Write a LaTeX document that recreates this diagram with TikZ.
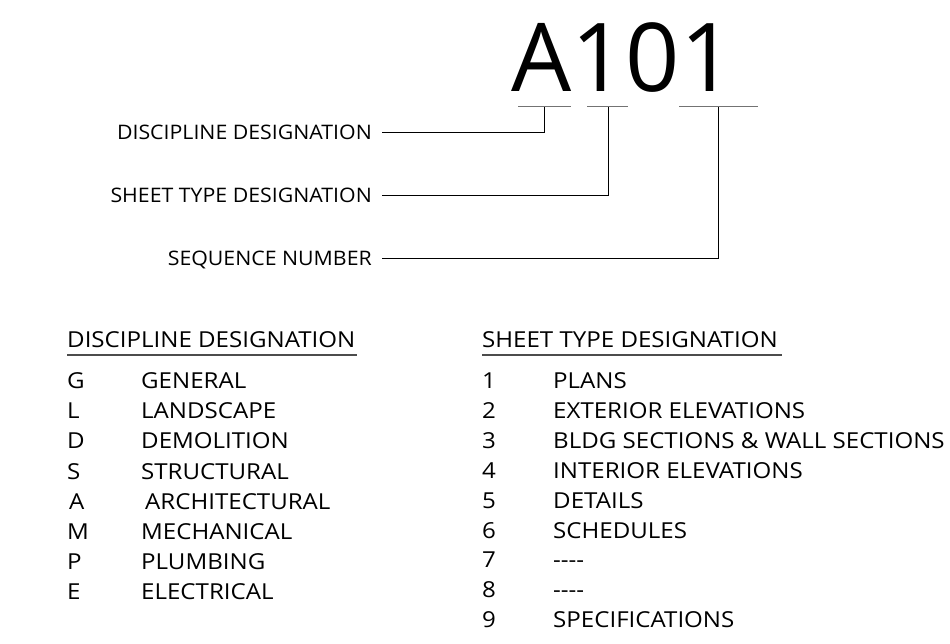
\documentclass[tikz,border=0pt]{standalone}
\usepackage{fontspec}
\setmainfont{Open Sans}
\newfontfamily\lblfont{Open Sans}[FakeStretch=1.065]
\newfontfamily\tblfont{Open Sans}[FakeStretch=1.095]
\newfontfamily\bigfont{Open Sans}
\tikzset{
  lbl/.style={inner sep=0pt, anchor=base east, font=\lblfont\fontsize{20}{24}\selectfont},
  cell/.style={inner sep=0pt, anchor=base west, font=\tblfont\fontsize{22}{26}\selectfont},
  head/.style={inner sep=0pt, anchor=base west, font=\tblfont\fontsize{22}{26}\selectfont},
  ul/.style={draw=black!55, line width=1pt},
  conn/.style={draw=black, line width=0.8pt},
  hul/.style={draw=black!70, line width=1.3pt}
}
\begin{document}
\begin{tikzpicture}[x=1pt,y=-1pt]
\useasboundingbox (0,0) rectangle (950,644);
% big code
\node[inner sep=0pt, anchor=base west, font=\bigfont\fontsize{95}{100}\selectfont] (code) at (511,92) {A101};
% underline segments
\coordinate (u1a) at (518,107); \coordinate (u1b) at (571,107);
\coordinate (u2a) at (587,107); \coordinate (u2b) at (628,107);
\coordinate (u3a) at (679,107); \coordinate (u3b) at (758,107);
\draw[ul] (u1a) -- (u1b);
\draw[ul] (u2a) -- (u2b);
\draw[ul] (u3a) -- (u3b);
\coordinate (t1) at (544,107);
\coordinate (t2) at (608,107);
\coordinate (t3) at (718,107);
% labels
\node[lbl] (l1) at (372,140) {DISCIPLINE DESIGNATION};
\node[lbl] (l2) at (372,203) {SHEET TYPE DESIGNATION};
\node[lbl] (l3) at (372,266) {SEQUENCE NUMBER};
\coordinate (s1) at (382,132); \coordinate (s2) at (382,195); \coordinate (s3) at (382,258);
\draw[conn] (s1) -| (t1);
\draw[conn] (s2) -| (t2);
\draw[conn] (s3) -| (t3);
% headers
\node[head] (h1) at (67,347) {DISCIPLINE DESIGNATION};
\node[head] (h2) at (482,347) {SHEET TYPE DESIGNATION};
\coordinate (h1a) at (67,355); \coordinate (h1b) at (357,355);
\coordinate (h2a) at (482,355); \coordinate (h2b) at (782,355);
\draw[hul] (h1a) -- (h1b);
\draw[hul] (h2a) -- (h2b);
% left table
\foreach \k/\d [count=\i from 0] in {G/GENERAL,L/LANDSCAPE,D/DEMOLITION,S/STRUCTURAL,A/ARCHITECTURAL,M/MECHANICAL,P/PLUMBING,E/ELECTRICAL}{
  \pgfmathsetmacro{\yy}{388.5+30.2*\i}
  \pgfmathsetmacro{\dx}{(\i==4)?2:0}
  \pgfmathsetmacro{\ddx}{(\i==4)?4:0}
  \node[cell] (dk\i) at (67+\dx,\yy) {\k};
  \node[cell] (dd\i) at (141+\ddx,\yy) {\d};
}
% right table
\foreach \k/\d [count=\i from 0] in {1/PLANS,2/EXTERIOR ELEVATIONS,3/BLDG SECTIONS \& WALL SECTIONS,4/INTERIOR ELEVATIONS,5/DETAILS,6/SCHEDULES,7/-{}-{}-{}-,8/-{}-{}-{}-,9/SPECIFICATIONS}{
  \pgfmathsetmacro{\yy}{388.5+29.9*\i}
  \node[cell] (sk\i) at (482,\yy) {\k};
  \node[cell] (sd\i) at (553,\yy) {\d};
}
\end{tikzpicture}
\end{document}
